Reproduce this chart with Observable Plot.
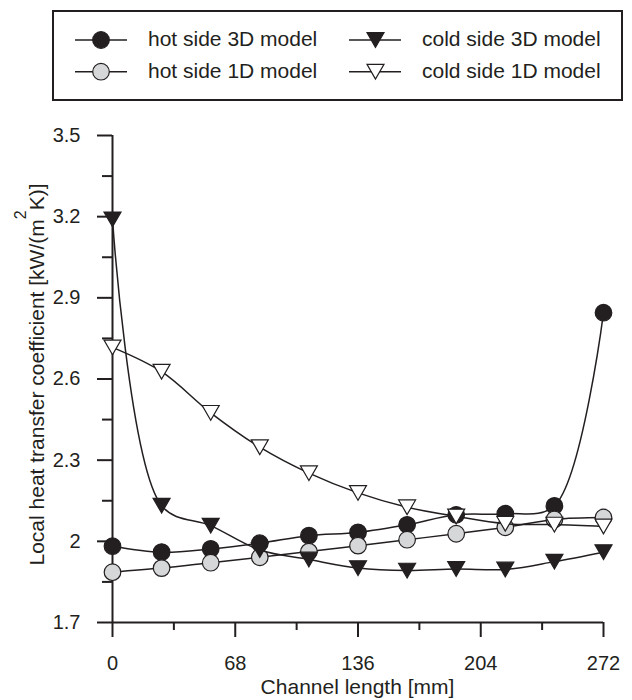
<!DOCTYPE html>
<html>
<head>
<meta charset="utf-8">
<script src="https://cdn.jsdelivr.net/npm/d3@7"></script>
<script src="https://cdn.jsdelivr.net/npm/@observablehq/plot@0.6"></script>
<style>
  body { margin: 0; background: #fff; }
  #chart { width: 632px; font-family: "Liberation Sans", Arial, sans-serif; color: #231f20; }
  #chart svg { display: block; }
</style>
</head>
<body>
<div id="chart"></div>
<script>
// ---- data ----
const channelLength = [0, 27.2, 54.4, 81.6, 108.8, 136, 163.2, 190.4, 217.6, 244.8, 272];
const hot3D  = [1.982, 1.960, 1.972, 1.993, 2.021, 2.033, 2.061, 2.098, 2.102, 2.131, 2.845];
const hot1D  = [1.886, 1.901, 1.921, 1.941, 1.962, 1.984, 2.006, 2.028, 2.052, 2.081, 2.088];
const cold3D = [3.190, 2.132, 2.058, 1.968, 1.933, 1.901, 1.892, 1.898, 1.896, 1.925, 1.960];
const cold1D = [2.717, 2.627, 2.475, 2.348, 2.252, 2.179, 2.126, 2.092, 2.065, 2.062, 2.055];
const seriesNames = ["hot side 3D model", "hot side 1D model", "cold side 3D model", "cold side 1D model"];
const yTicks = [1.7, 2, 2.3, 2.6, 2.9, 3.2, 3.5];
const yTickLabels = ["1.7", "2", "2.3", "2.6", "2.9", "3.2", "3.5"];
const yMinorTicks = [1.85, 2.15, 2.45, 2.75, 3.05, 3.35];
const xTicks = [0, 68, 136, 204, 272];
const xTickLabels = ["0", "68", "136", "204", "272"];
const xMinorTicks = [34, 102, 170, 238];
const xLabel = "Channel length [mm]";
const yLabelMain = "Local heat transfer coefficient [kW/(m";
const yLabelSup = "2";
const yLabelEnd = "K)]";

// ---- styling ----
const ink = "#231f20";
const grey = "#d6d7d8";
const font = "'Liberation Sans', Arial, sans-serif";
const series = [
  { name: seriesNames[0], values: hot3D,  symbol: "circle",   fill: ink,    rotate: 0,   r: 8.3, dy: 0 },
  { name: seriesNames[1], values: hot1D,  symbol: "circle",   fill: grey,   rotate: 0,   r: 8.3, dy: 0 },
  { name: seriesNames[2], values: cold3D, symbol: "triangle", fill: ink,    rotate: 180, r: 6.3, dy: -2.4 },
  { name: seriesNames[3], values: cold1D, symbol: "triangle", fill: "#fff", rotate: 180, r: 6.3, dy: -2.4 }
];
const tables = series.map(s => s.values.map((v, i) => ({ x: channelLength[i], y: v, series: s.name })));

// ---- legend (above the plot) ----
const legend = d3.create("svg").attr("width", 632).attr("height", 110)
  .style("font-family", font).style("font-size", "21px");
legend.append("rect").attr("x", 53).attr("y", 11).attr("width", 569).attr("height", 89)
  .attr("fill", "none").attr("stroke", ink).attr("stroke-width", 2);
const legendSlots = [
  { s: series[0], lx: 75,  mx: 101,   tx: 148, y: 40 },
  { s: series[2], lx: 349, mx: 375.5, tx: 422, y: 40 },
  { s: series[1], lx: 75,  mx: 101,   tx: 148, y: 71.7 },
  { s: series[3], lx: 349, mx: 375.5, tx: 422, y: 71.7 }
];
for (const d of legendSlots) {
  legend.append("line").attr("x1", d.lx).attr("x2", d.lx + 52).attr("y1", d.y).attr("y2", d.y)
    .attr("stroke", ink).attr("stroke-width", 1.6);
  const sym = d.s.symbol === "circle" ? d3.symbolCircle : d3.symbolTriangle;
  legend.append("path")
    .attr("d", d3.symbol(sym, Math.PI * d.s.r * d.s.r)())
    .attr("transform", `translate(${d.mx},${d.y + d.s.dy}) rotate(${d.s.rotate})`)
    .attr("fill", d.s.fill).attr("stroke", ink).attr("stroke-width", 1.2);
  legend.append("text").attr("x", d.tx).attr("y", d.y + 6).attr("fill", ink).text(d.s.name);
}
document.getElementById("chart").append(legend.node());

// ---- plot ----
const marks = [
  Plot.ruleX([0], { stroke: ink, strokeWidth: 2 }),
  Plot.ruleY([1.7], { stroke: ink, strokeWidth: 2 }),
  Plot.axisY(yMinorTicks, { tickSize: 10, tickFormat: () => "", strokeWidth: 2, label: null }),
  Plot.axisY(yTicks, { tickSize: 15, tickPadding: 17, strokeWidth: 2, fontSize: 20, label: null,
    tickFormat: d => yTickLabels[yTicks.indexOf(d)] }),
  Plot.axisX(xMinorTicks, { tickSize: 8, tickFormat: () => "", strokeWidth: 2, label: null }),
  Plot.axisX(xTicks, { tickSize: 15, tickPadding: 18, strokeWidth: 2, fontSize: 20, label: null,
    tickFormat: d => xTickLabels[xTicks.indexOf(d)] })
];
series.forEach((s, k) => {
  marks.push(Plot.line(tables[k], { x: "x", y: "y", curve: "catmull-rom", stroke: ink, strokeWidth: 1.5 }));
  marks.push(Plot.dot(tables[k], {
    x: "x", y: "y", symbol: s.symbol, r: s.r, rotate: s.rotate, dy: s.dy,
    fill: s.fill, stroke: ink, strokeWidth: 1.2
  }));
});

const plot = Plot.plot({
  width: 632,
  height: 590,
  marginTop: 25,
  marginBottom: 78,
  marginLeft: 112,
  marginRight: 29,
  x: { domain: [0, 272] },
  y: { domain: [1.7, 3.5] },
  style: { fontFamily: font, fontSize: "20px", color: ink, background: "white", overflow: "visible" },
  marks
});

const svg = d3.select(plot);
const xs = plot.scale("x"), ys = plot.scale("y");
const cx = (xs.range[0] + xs.range[1]) / 2;
const cy = (ys.range[0] + ys.range[1]) / 2;
svg.append("text").attr("x", cx).attr("y", 584).attr("text-anchor", "middle")
  .attr("fill", ink).style("font-size", "21px").style("font-family", font).text(xLabel);
const yl = svg.append("text").attr("transform", `translate(43.5,${cy - 4}) rotate(-90)`)
  .attr("text-anchor", "middle").attr("fill", ink).style("font-size", "21px").style("font-family", font);
yl.append("tspan").text(yLabelMain);
yl.append("tspan").attr("dy", -18).style("font-size", "16px").text(yLabelSup);
yl.append("tspan").attr("dy", 18).text(yLabelEnd);

document.getElementById("chart").append(plot);
</script>
</body>
</html>
